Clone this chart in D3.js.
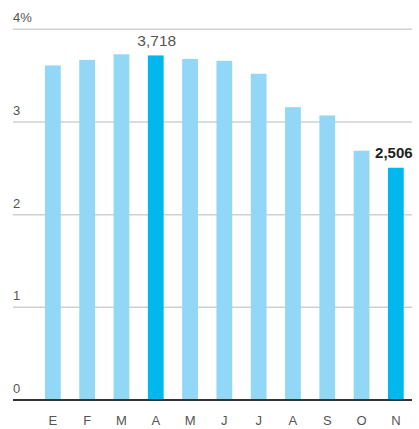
<!DOCTYPE html>
<html>
<head>
<meta charset="utf-8">
<script src="https://cdn.jsdelivr.net/npm/d3@7"></script>
<style>
  body { margin: 0; background: #fff; }
  text { font-family: "Liberation Sans", Arial, sans-serif; }
</style>
</head>
<body>
<script>
let months = ['E', 'F', 'M', 'A', 'M', 'J', 'J', 'A', 'S', 'O', 'N'];
let values = [3.61, 3.67, 3.73, 3.718, 3.68, 3.66, 3.52, 3.16, 3.07, 2.69, 2.506];
let highlighted = [3, 10];
let yTicks = [0, 1, 2, 3, 4];
let yTickLabels = ['0', '1', '2', '3', '4%'];

let svg = d3.select('body')
  .append('svg')
  .attr('width', 419)
  .attr('height', 429);

let left = 13;
let right = 412;

let x = d3.scaleBand()
  .domain(d3.range(months.length))
  .range([35.7, 413])
  .paddingInner(0.54)
  .paddingOuter(0.27);

let y = d3.scaleLinear()
  .domain([0, 4])
  .range([400, 29.3]);

// gridlines
svg.selectAll('line.grid').data(yTicks.slice(1))
  .enter().append('line')
  .attr('class', 'grid')
  .attr('x1', left)
  .attr('x2', right)
  .attr('y1', d => y(d))
  .attr('y2', d => y(d))
  .attr('stroke', '#d0d0d0')
  .attr('stroke-width', 1.5);

svg.selectAll('text.ytick').data(yTicks)
  .enter().append('text')
  .attr('class', 'ytick')
  .attr('x', left)
  .attr('y', d => y(d) - 7)
  .attr('font-size', 13)
  .attr('fill', '#555')
  .text((d, i) => yTickLabels[i]);

// bars
svg.selectAll('rect').data(values)
  .enter().append('rect')
  .attr('x', (d, i) => x(i))
  .attr('width', x.bandwidth())
  .attr('y', d => y(d))
  .attr('height', d => y(0) - y(d))
  .attr('fill', (d, i) => highlighted.includes(i) ? '#00b8ee' : '#92d8f6');

// baseline
svg.append('line')
  .attr('x1', left)
  .attr('x2', right)
  .attr('y1', y(0))
  .attr('y2', y(0))
  .attr('stroke', '#333')
  .attr('stroke-width', 2);

// month labels
svg.selectAll('text.month').data(months)
  .enter().append('text')
  .attr('class', 'month')
  .attr('x', (d, i) => x(i) + x.bandwidth() / 2)
  .attr('y', 425)
  .attr('text-anchor', 'middle')
  .attr('font-size', 13)
  .attr('fill', '#555')
  .text(d => d);

// value labels
svg.append('text')
  .attr('x', x(3) + x.bandwidth() / 2 + 1)
  .attr('y', y(values[3]) - 9)
  .attr('text-anchor', 'middle')
  .attr('font-size', 15.5)
  .attr('fill', '#555')
  .text('3,718');

svg.append('text')
  .attr('x', x(10) + x.bandwidth() / 2 - 2)
  .attr('y', y(values[10]) - 10)
  .attr('text-anchor', 'middle')
  .attr('font-size', 15)
  .attr('font-weight', 'bold')
  .attr('fill', '#222')
  .text('2,506');
</script>
</body>
</html>
